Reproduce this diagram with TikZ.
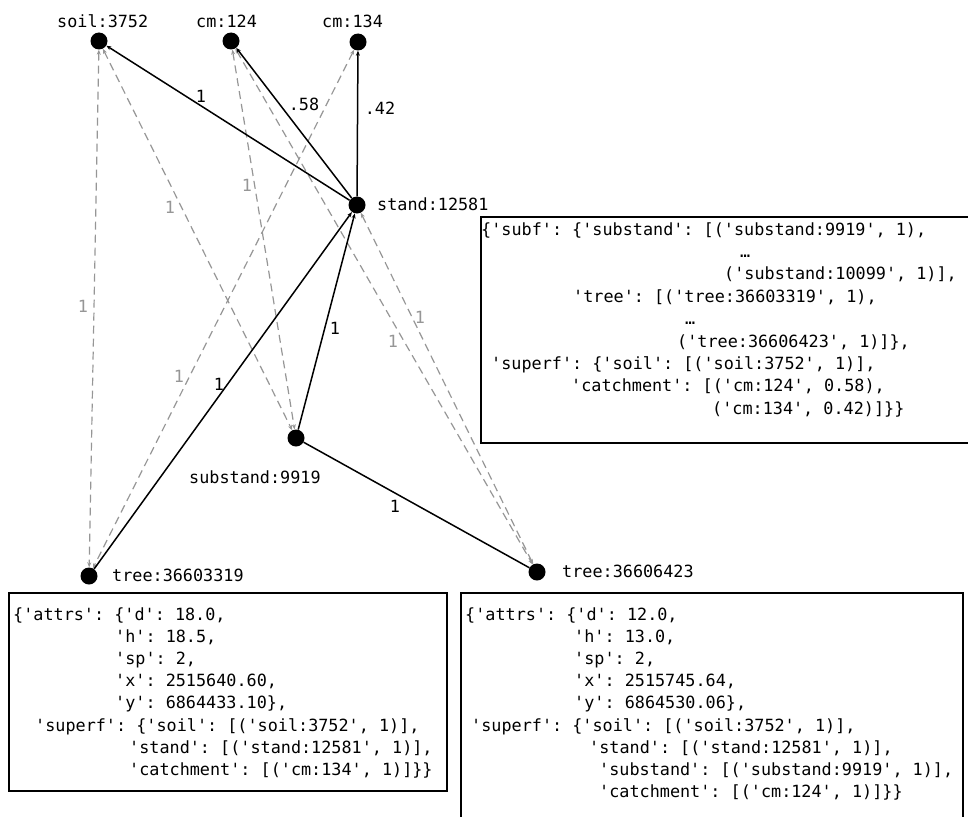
\documentclass[tikz,border=0pt]{standalone}
\usepackage{fontspec}
\setmonofont{DejaVu Sans Mono}
\usetikzlibrary{arrows.meta}
\definecolor{edgegray}{RGB}{150,150,150}
\begin{document}
\frenchspacing
\begin{tikzpicture}[x=1pt,y=-1pt,
  vtx/.style={circle,fill=black,inner sep=0pt,minimum size=17pt},
  lbl/.style={font=\ttfamily\fontsize{16.8}{20}\selectfont,inner sep=0pt},
  txt/.style={lbl,anchor=base west},
  glbl/.style={lbl,text=edgegray},
  solidedge/.style={line width=1.5pt,-{Stealth[length=5pt,width=4pt]}},
  plainedge/.style={line width=1.5pt},
  dashedge/.style={line width=1.2pt,draw=edgegray,dash pattern=on 8pt off 5pt,
    {Stealth[length=5pt,width=4pt]}-{Stealth[length=5pt,width=4pt]}},
  infobox/.style={draw,line width=1.3pt}]
\useasboundingbox (0,0) rectangle (968,816);
\clip (0,0) rectangle (968,816);

% vertices
\node[vtx] (soil)  at (99,41)  {};
\node[vtx] (cma)   at (231,41) {};
\node[vtx] (cmb)   at (358,42) {};
\node[vtx] (stand) at (357,205) {};
\node[vtx] (sub)   at (296,438) {};
\node[vtx] (treea) at (89,576) {};
\node[vtx] (treeb) at (537,572) {};

% dashed (indirect) edges
\draw[dashedge] (soil) -- (treea);
\draw[dashedge] (soil) -- (sub);
\draw[dashedge] (cma) -- (sub);
\draw[dashedge] (cma) -- (treeb);
\draw[dashedge] (cmb) -- (treea);
\draw[dashedge] (stand) -- (treeb);

% solid edges
\draw[solidedge] (stand) -- (soil);
\draw[solidedge] (stand) -- (cma);
\draw[solidedge] (stand) -- (cmb);
\draw[solidedge] (treea) -- (stand);
\draw[solidedge] (sub) -- (stand);
\draw[plainedge] (treeb) -- (sub);

% vertex labels
\node[txt] (tsoil)  at (57,28)   {soil:3752};
\node[txt] (tcma)   at (196,28)  {cm:124};
\node[txt] (tcmb)   at (322,28)  {cm:134};
\node[txt] (tstand) at (377,210) {stand:12581};
\node[txt] (tsub)   at (189,483) {substand:9919};
\node[txt] (ttreea) at (112,581) {tree:36603319};
\node[txt] (ttreeb) at (562,577) {tree:36606423};

% edge labels
\node[lbl]  (e1)  at (201,96)  {1};
\node[lbl]  (e2)  at (304,104) {.58};
\node[lbl]  (e3)  at (380,108) {.42};
\node[glbl] (e4)  at (247,185) {1};
\node[glbl] (e5)  at (170,207) {1};
\node[glbl] (e6)  at (83,306)  {1};
\node[glbl] (e7)  at (179,376) {1};
\node[lbl]  (e8)  at (219,384) {1};
\node[lbl]  (e9)  at (335,328) {1};
\node[glbl] (e10) at (420,317) {1};
\node[glbl] (e11) at (393,341) {1};
\node[lbl]  (e12) at (395,506) {1};

% stand info box
\draw[infobox] (481,217) rectangle (990,443);
\node[txt] (sa1) at (481,235)   {\{'subf': \{'substand': [('substand:9919', 1),};
\node[txt] (sa2) at (740,257.4) {…};
\node[txt] (sa3) at (724,279.8) {('substand:10099', 1)],};
\node[txt] (sa4) at (573,302.2) {'tree': [('tree:36603319', 1),};
\node[txt] (sa5) at (685,324.6) {…};
\node[txt] (sa6) at (677,347)   {('tree:36606423', 1)]\},};
\node[txt] (sa7) at (491,369.4) {'superf': \{'soil': [('soil:3752', 1)],};
\node[txt] (sa8) at (571,391.8) {'catchment': [('cm:124', 0.58),};
\node[txt] (sa9) at (712,414.2) {('cm:134', 0.42)]\}\}};

% tree 36603319 box
\draw[infobox] (9,593) rectangle (447,791);
\node[txt] (ta1) at (13,620)    {\{'attrs': \{'d': 18.0,};
\node[txt] (ta2) at (115,642.2) {'h': 18.5,};
\node[txt] (ta3) at (115,664.4) {'sp': 2,};
\node[txt] (ta4) at (115,686.6) {'x': 2515640.60,};
\node[txt] (ta5) at (115,708.8) {'y': 6864433.10\},};
\node[txt] (ta6) at (35,731)    {'superf': \{'soil': [('soil:3752', 1)],};
\node[txt] (ta7) at (129,753.2) {'stand': [('stand:12581', 1)],};
\node[txt] (ta8) at (129,775.4) {'catchment': [('cm:134', 1)]\}\}};

% tree 36606423 box
\draw[infobox] (461,593) rectangle (963,830);
\node[txt] (tb1) at (465,620)   {\{'attrs': \{'d': 12.0,};
\node[txt] (tb2) at (574,642.2) {'h': 13.0,};
\node[txt] (tb3) at (574,664.4) {'sp': 2,};
\node[txt] (tb4) at (574,686.6) {'x': 2515745.64,};
\node[txt] (tb5) at (574,708.8) {'y': 6864530.06\},};
\node[txt] (tb6) at (471,731)   {'superf': \{'soil': [('soil:3752', 1)],};
\node[txt] (tb7) at (589,753.2) {'stand': [('stand:12581', 1)],};
\node[txt] (tb8) at (599,775.4) {'substand': [('substand:9919', 1)],};
\node[txt] (tb9) at (599,797.6) {'catchment': [('cm:124', 1)]\}\}};
\end{tikzpicture}
\end{document}
